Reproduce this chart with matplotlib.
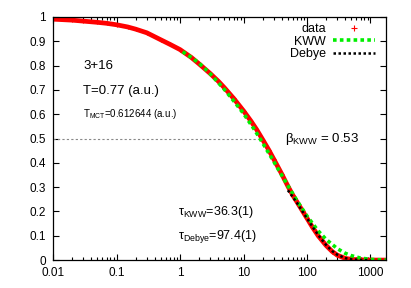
import numpy as np
import matplotlib
matplotlib.use('Agg')
import matplotlib.pyplot as plt
from matplotlib.ticker import LogLocator, NullFormatter

plt.rcParams['font.family'] = ['Liberation Sans', 'DejaVu Sans']
plt.rcParams['mathtext.fontset'] = 'custom'
plt.rcParams['mathtext.rm'] = 'Liberation Sans'
plt.rcParams['mathtext.it'] = 'Liberation Sans:italic'

# data
t_data = [0.01, 0.02, 0.03, 0.05, 0.07, 0.1, 0.15, 0.2, 0.3, 0.5, 0.7, 1.0, 1.5,
          2.0, 3.0, 4.0, 5.0, 7.0, 10, 13, 16, 20, 25, 30, 40, 50, 60, 70, 85,
          100, 120, 150, 200, 250, 300, 400, 500, 700, 1000, 1400, 1750]
phi_data = [0.991, 0.987, 0.983, 0.978, 0.974, 0.968, 0.959, 0.950, 0.935, 0.906,
            0.887, 0.866, 0.834, 0.807, 0.767, 0.736, 0.709, 0.665, 0.614, 0.573,
            0.538, 0.496, 0.453, 0.415, 0.354, 0.304, 0.266, 0.238, 0.202, 0.172,
            0.138, 0.100, 0.060, 0.035, 0.020, 0.007, 0.003, 0.001, 0.0, 0.0, 0.0]

t_kww = [1.1, 1.5, 2, 3, 5, 7, 10, 15, 20, 30, 40, 50, 70, 100, 150, 200, 300,
         400, 500, 700, 1000, 1400, 1750]
phi_kww = [0.857, 0.834, 0.810, 0.766, 0.702, 0.655, 0.603, 0.535, 0.482, 0.405,
           0.349, 0.306, 0.243, 0.181, 0.120, 0.085, 0.047, 0.028, 0.018, 0.008,
           0.003, 0.001, 0.0005]

t_debye = [50, 60, 70, 85, 100, 120, 150, 200, 250, 300, 400, 500, 700, 1000]
phi_debye = [0.287, 0.259, 0.234, 0.200, 0.172, 0.140, 0.103, 0.062, 0.037,
             0.022, 0.008, 0.003, 0.0004, 0.0]

half_line_x = [0.01, 17]
half_line_y = [0.5, 0.5]

xticks = [0.01, 0.1, 1, 10, 100, 1000]
xticklabels = ['0.01', '0.1', '1', '10', '100', '1000']
yticks = [0, 0.1, 0.2, 0.3, 0.4, 0.5, 0.6, 0.7, 0.8, 0.9, 1]
yticklabels = ['0', '0.1', '0.2', '0.3', '0.4', '0.5', '0.6', '0.7', '0.8', '0.9', '1']

fig = plt.figure(figsize=(4.11, 2.88), dpi=100)
ax = fig.add_axes([0.129, 0.097, 0.81, 0.844])

ax.plot(half_line_x, half_line_y, color='#888888', lw=0.8, ls=(0, (2, 2)))
ax.plot(t_data, phi_data, color='red', lw=3.4, solid_capstyle='butt', solid_joinstyle='round')
ax.plot(t_data, phi_data, ls='none', marker='+', ms=3, mew=0.8, color='red', label='data')
ax.plot(t_kww, phi_kww, color='#00ee00', lw=2.6, ls=(0, (1, 0.9)), dash_capstyle='butt', label='KWW')
ax.plot(t_debye, phi_debye, color='black', lw=1.8, ls=(0, (1, 1)), dash_capstyle='butt', label='Debye')

ax.set_xscale('log')
ax.set_xlim(0.01, 1750)
ax.set_ylim(0, 1)
ax.set_xticks(xticks)
ax.set_xticklabels(xticklabels)
ax.xaxis.set_minor_locator(LogLocator(base=10, subs=np.arange(2, 10)))
ax.xaxis.set_minor_formatter(NullFormatter())
ax.set_yticks(yticks)
ax.set_yticklabels(yticklabels)

ax.tick_params(which='both', direction='in', top=True, right=True, labelsize=8.5, width=0.8)
ax.tick_params(which='major', length=4, pad=5)
ax.tick_params(which='minor', length=2)
for s in ax.spines.values():
    s.set_linewidth(0.9)

ax.text(0.09, 0.80, '3+16', transform=ax.transAxes, fontsize=9.5, va='center')
ax.text(0.09, 0.697, 'T=0.77 (a.u.)', transform=ax.transAxes, fontsize=9.5, va='center')
ax.text(0.09, 0.60, r'T$_{\mathrm{MCT}}$=0.612644 (a.u.)', transform=ax.transAxes, fontsize=7, va='center')
ax.text(0.697, 0.50, r'$\mathrm{\beta}_{\mathrm{KWW}}$ = 0.53', transform=ax.transAxes, fontsize=9.5, va='center')
ax.text(0.375, 0.197, r'$\mathrm{\tau}_{\mathrm{KWW}}$=36.3(1)', transform=ax.transAxes, fontsize=9, va='center')
ax.text(0.375, 0.095, r'$\mathrm{\tau}_{\mathrm{Debye}}$=97.4(1)', transform=ax.transAxes, fontsize=9, va='center')

leg = ax.legend(loc='upper right', frameon=False, markerfirst=False, fontsize=9,
                handlelength=3.3, handletextpad=0.6, labelspacing=0.05,
                borderaxespad=0.1, bbox_to_anchor=(0.985, 1.0))
leg.legend_handles[0].set_markersize(4)

fig.savefig('out.png', dpi=100)
